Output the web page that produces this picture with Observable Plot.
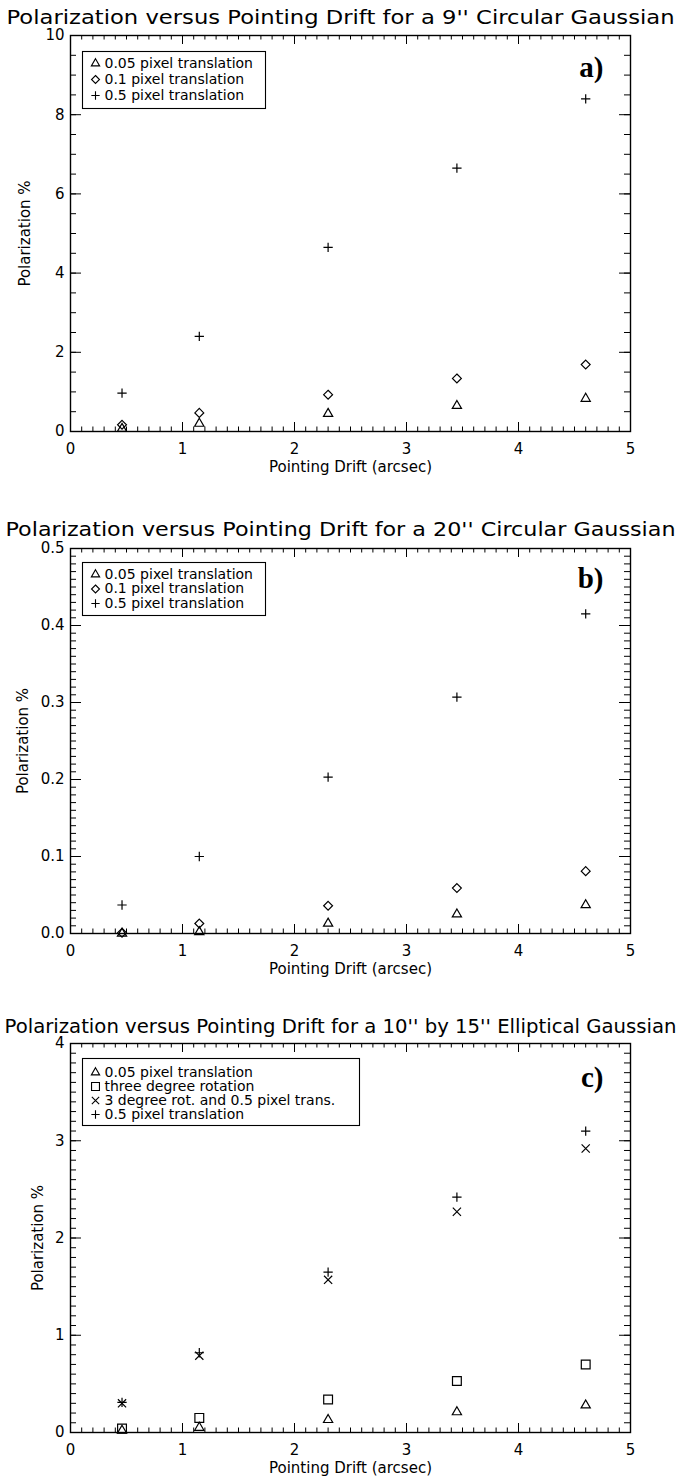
<!DOCTYPE html>
<html><head><meta charset="utf-8">
<script src="https://cdn.jsdelivr.net/npm/d3@7"></script>
<script src="https://cdn.jsdelivr.net/npm/@observablehq/plot@0.6"></script>
<style>
body{margin:0;background:#fff;}
#chart{width:679px;}
#chart svg{display:block;}
</style></head><body><div id="chart"></div>
<script>
// ---- data ----
const drift = [0.46, 1.15, 2.3, 3.45, 4.6];

const aTrans005 = [0.07, 0.20, 0.45, 0.65, 0.83];
const aTrans01  = [0.17, 0.47, 0.93, 1.34, 1.69];
const aTrans05  = [0.97, 2.40, 4.65, 6.65, 8.40];

const bTrans005 = [0.000, 0.002, 0.013, 0.025, 0.037];
const bTrans01  = [0.001, 0.013, 0.036, 0.059, 0.081];
const bTrans05  = [0.037, 0.100, 0.203, 0.307, 0.415];

const cTrans005 = [0.02, 0.05, 0.13, 0.21, 0.28];
const cRot3     = [0.04, 0.15, 0.34, 0.53, 0.70];
const cRotTrans = [0.30, 0.79, 1.57, 2.27, 2.92];
const cTrans05  = [0.31, 0.82, 1.65, 2.42, 3.10];

const xTicks  = [0, 1, 2, 3, 4, 5];
const aYTicks = [0, 2, 4, 6, 8, 10];
const bYTicks = [0, 0.1, 0.2, 0.3, 0.4, 0.5];
const cYTicks = [0, 1, 2, 3, 4];

const titleA = "Polarization versus Pointing Drift for a 9'' Circular Gaussian";
const titleB = "Polarization versus Pointing Drift for a 20'' Circular Gaussian";
const titleC = "Polarization versus Pointing Drift for a 10'' by 15'' Elliptical Gaussian";
const xLabel = "Pointing Drift (arcsec)";
const yLabel = "Polarization %";

const legendAB = ["0.05 pixel translation", "0.1 pixel translation", "0.5 pixel translation"];
const legendC  = ["0.05 pixel translation", "three degree rotation", "3 degree rot. and 0.5 pixel trans.", "0.5 pixel translation"];

// symbol styles (IDL psym look-alikes)
const SYM = {
  triangle: {symbol: "triangle2", r: 4.4},
  diamond:  {symbol: "diamond2",  r: 4.0},
  plus:     {symbol: "plus",      r: 3.1},
  square:   {symbol: "square2",   r: 5.6},
  times:    {symbol: "times",     r: 3.8}
};

const W = 679, ML = 70, MR = 49;
const FW = W - ML - MR;

function panel(cfg) {
  const FH = cfg.height - cfg.mt - cfg.mb;
  const marks = [];
  // series
  cfg.series.forEach(s => {
    const rows = drift.map((x, i) => ({x, y: s.values[i]}));
    marks.push(Plot.dot(rows, {x: "x", y: "y", ...SYM[s.sym], stroke: "black", fill: "none", strokeWidth: 1.2}));
  });
  // minor / major ticks, inward on all four sides
  const xMinor = d3.range(0, 50.5, 1).map(d => d / 10);
  const yMinor = d3.range(0, Math.round(cfg.ymax / cfg.yminor) + 0.5, 1).map(d => +(d * cfg.yminor).toFixed(4));
  const tk = {stroke: "black", strokeWidth: 1};
  marks.push(Plot.tickX(xMinor, {x: d => d, insetTop: FH - 4.5, ...tk}));
  marks.push(Plot.tickX(xMinor, {x: d => d, insetBottom: FH - 4.5, ...tk}));
  marks.push(Plot.tickX(xTicks, {x: d => d, insetTop: FH - 9, ...tk}));
  marks.push(Plot.tickX(xTicks, {x: d => d, insetBottom: FH - 9, ...tk}));
  marks.push(Plot.tickY(yMinor, {y: d => d, insetRight: FW - 6, ...tk}));
  marks.push(Plot.tickY(yMinor, {y: d => d, insetLeft: FW - 6, ...tk}));
  marks.push(Plot.tickY(cfg.yTicks, {y: d => d, insetRight: FW - 11, ...tk}));
  marks.push(Plot.tickY(cfg.yTicks, {y: d => d, insetLeft: FW - 11, ...tk}));
  marks.push(Plot.frame({stroke: "black", strokeWidth: 1.4}));
  // tick labels
  marks.push(Plot.axisX(xTicks, {anchor: "bottom", tickSize: 0, tickPadding: 12, fontSize: 15, label: null, tickFormat: d3.format("d")}));
  marks.push(Plot.axisY(cfg.yTicks, {anchor: "left", tickSize: 0, tickPadding: 6, fontSize: 15, label: null, tickFormat: cfg.fmt}));
  // axis titles
  marks.push(Plot.text([xLabel], {frameAnchor: "bottom", dy: 36, lineAnchor: "middle", fontSize: 15}));
  marks.push(Plot.text([yLabel], {frameAnchor: "left", dx: -cfg.ytx, rotate: -90, textAnchor: "middle", lineAnchor: "middle", fontSize: 15}));
  // title
  marks.push(Plot.text([cfg.title], {frameAnchor: "top", dx: -10, dy: cfg.tdy, lineAnchor: "middle", fontSize: cfg.tfs}));
  // panel letter
  marks.push(Plot.text([cfg.letter], {frameAnchor: "top-right", dx: -27, dy: cfg.ldy, textAnchor: "end", lineAnchor: "middle", fontSize: 29, fontWeight: "bold", fontFamily: "Liberation Serif", letterSpacing: "2px"}));
  // legend box
  const L = cfg.legend;
  marks.push(Plot.frame({insetLeft: 12, insetTop: L.top, insetRight: FW - L.right, insetBottom: FH - L.bottom, stroke: "black", strokeWidth: 1.1}));
  L.items.forEach((it, i) => {
    const dy = L.first + i * L.step;
    marks.push(Plot.dot([0], {frameAnchor: "top-left", dx: 25, dy, ...SYM[it.sym], r: SYM[it.sym].r * 0.9, stroke: "black", fill: "none", strokeWidth: 1.1}));
    marks.push(Plot.text([it.label], {frameAnchor: "top-left", dx: 34, dy, textAnchor: "start", lineAnchor: "middle", fontSize: 14}));
  });
  const svg = Plot.plot({
    width: W, height: cfg.height,
    marginLeft: ML, marginRight: MR, marginTop: cfg.mt, marginBottom: cfg.mb,
    x: {domain: [0, 5], axis: null},
    y: {domain: [0, cfg.ymax], axis: null},
    style: {fontFamily: "DejaVu Sans", color: "black", background: "white", overflow: "visible"},
    marks
  });
  // stretch the title to the reference's width
  d3.select(svg).selectAll("text").each(function() {
    if (this.textContent === cfg.title) {
      this.setAttribute("textLength", cfg.tlen);
      this.setAttribute("lengthAdjust", "spacingAndGlyphs");
    }
  });
  return svg;
}

const chart = document.getElementById("chart");
chart.append(panel({
  height: 492, mt: 35, mb: 61, ymax: 10, yminor: 0.5, yTicks: aYTicks, fmt: d3.format("d"),
  title: titleA, tlen: 668, tdy: -18, tfs: 20, letter: "a)", ldy: 32, ytx: 45,
  series: [{values: aTrans005, sym: "triangle"}, {values: aTrans01, sym: "diamond"}, {values: aTrans05, sym: "plus"}],
  legend: {top: 16, bottom: 73, right: 195, first: 28, step: 16,
    items: [{sym: "triangle", label: legendAB[0]}, {sym: "diamond", label: legendAB[1]}, {sym: "plus", label: legendAB[2]}]}
}));
chart.append(panel({
  height: 493, mt: 56, mb: 52, ymax: 0.5, yminor: 0.01, yTicks: bYTicks, fmt: d3.format(".1f"),
  title: titleB, tlen: 670, tdy: -19, tfs: 20, letter: "b)", ldy: 30, ytx: 47,
  series: [{values: bTrans005, sym: "triangle"}, {values: bTrans01, sym: "diamond"}, {values: bTrans05, sym: "plus"}],
  legend: {top: 14, bottom: 67, right: 195, first: 26, step: 14.5,
    items: [{sym: "triangle", label: legendAB[0]}, {sym: "diamond", label: legendAB[1]}, {sym: "plus", label: legendAB[2]}]}
}));
chart.append(panel({
  height: 492, mt: 58, mb: 45, ymax: 4, yminor: 0.1, yTicks: cYTicks, fmt: d3.format("d"),
  title: titleC, tlen: 672, tdy: -17, tfs: 19, letter: "c)", ldy: 34, ytx: 32,
  series: [{values: cTrans005, sym: "triangle"}, {values: cRot3, sym: "square"}, {values: cRotTrans, sym: "times"}, {values: cTrans05, sym: "plus"}],
  legend: {top: 15, bottom: 82, right: 289, first: 29, step: 14,
    items: [{sym: "triangle", label: legendC[0]}, {sym: "square", label: legendC[1]}, {sym: "times", label: legendC[2]}, {sym: "plus", label: legendC[3]}]}
}));
</script>
</body></html>
